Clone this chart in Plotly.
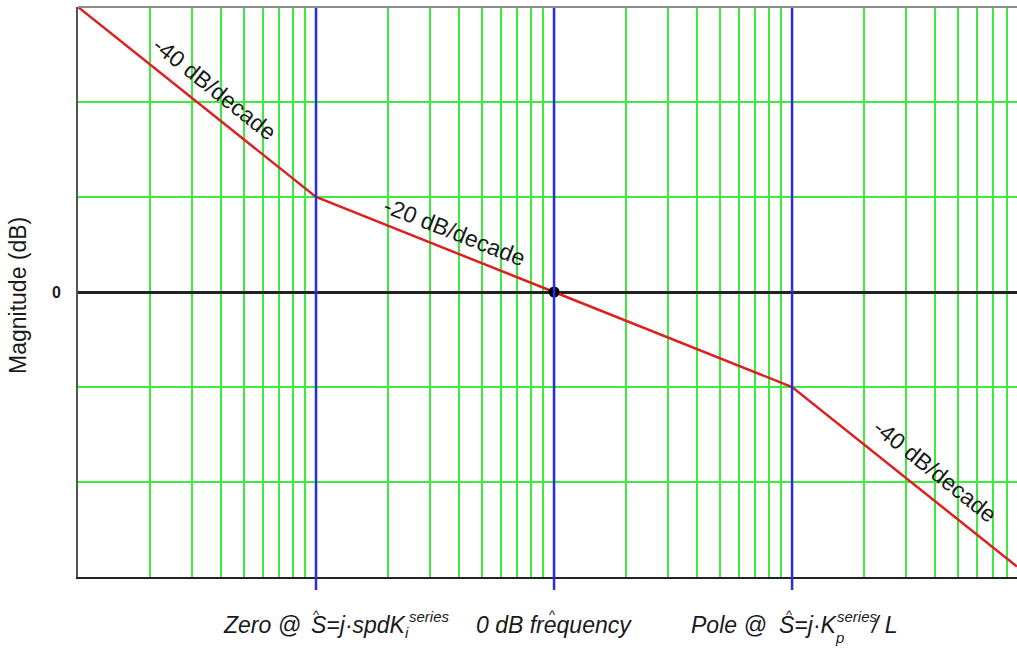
import numpy as np
import plotly.graph_objects as go

# ---- data ----
freq = [1, 10, 100, 1000, 8800]           # rad/s (relative), log axis
mag_db = [60, 20, 0, -20, -57.8]          # asymptotic magnitude (dB)
zero_freq = 10
crossover_freq = 100
pole_freq = 1000
x_grid = [m * 10 ** d for d in range(0, 4) for m in range(1, 10)]
y_grid = [-60, -40, -20, 0, 20, 40, 60]
slope_labels = ["-40 dB/decade", "-20 dB/decade", "-40 dB/decade"]
slope_label_freq = [3.77, 38.4, 3990]
slope_label_angle = [38.5, 21.5, 38.5]
slope_label_shift = [28, 21, 30]

FONT = "Arial, 'Liberation Sans', sans-serif"
TXT = "#1a1a1a"
GREEN = "#3fea3f"
BLUE = "#2b2bef"
RED = "#dd2020"
FS = 23
FS_SMALL = 15

fig = go.Figure()

# red asymptotic magnitude line
fig.add_trace(go.Scatter(x=freq, y=mag_db, mode="lines",
                         line=dict(color=RED, width=2.5),
                         hoverinfo="skip", showlegend=False))
# crossover dot
fig.add_trace(go.Scatter(x=[crossover_freq], y=[0], mode="markers",
                         marker=dict(color="black", size=11),
                         hoverinfo="skip", showlegend=False, cliponaxis=False))

# blue vertical lines (extend a little below the axis)
for f in [zero_freq, crossover_freq, pole_freq]:
    fig.add_shape(type="line", xref="x", yref="paper", x0=f, x1=f,
                  y0=-0.023, y1=1, line=dict(color=BLUE, width=2.5), layer="above")

# top border
fig.add_shape(type="line", xref="paper", yref="paper", x0=0, x1=1, y0=1, y1=1,
              line=dict(color="#8a8a8a", width=2), layer="above")

# slope labels along the line
logf = np.log10(freq)
for txt, f, ang, sh in zip(slope_labels, slope_label_freq, slope_label_angle, slope_label_shift):
    lx = np.log10(f)
    ly = float(np.interp(lx, logf, mag_db))
    fig.add_annotation(x=lx, y=ly, xref="x", yref="y", text=txt, showarrow=False,
                       textangle=ang, yshift=sh, font=dict(size=FS, color=TXT, family=FONT))


def label(f, text, xshift, yshift, size, anchor="left"):
    fig.add_annotation(x=np.log10(f), y=0, xref="x", yref="paper", text=text,
                       showarrow=False, xanchor=anchor, yanchor="middle",
                       xshift=xshift, yshift=yshift,
                       font=dict(size=size, color=TXT, family=FONT))


ybase = -48
# Zero label
label(zero_freq, "<i>Zero @</i>", -13, ybase, FS, "right")
label(zero_freq, "<i>S=j·spdK</i>", -7, ybase, FS)
label(zero_freq, "<i>i</i>", 87, -55, FS_SMALL)
label(zero_freq, "<i>series</i>", 91, -39, FS_SMALL)
label(zero_freq, "^", 0, -37, 13, "center")
# 0 dB label
label(crossover_freq, "<i>0 dB frequency</i>", 0, ybase, FS, "center")
label(crossover_freq, "^", -2, -37, 13, "center")
# Pole label
label(pole_freq, "<i>Pole @</i>", -23, ybase, FS, "right")
label(pole_freq, "<i>S=j·K</i>", -15, ybase, FS)
label(pole_freq, "<i>p</i>", 41, -60, FS_SMALL)
label(pole_freq, "<i>series</i>", 43, -39, FS_SMALL)
label(pole_freq, "<i>/ L</i>", 76, ybase, FS)
label(pole_freq, "^", -3, -37, 13, "center")

# y title
fig.add_annotation(x=0, y=0.493, xref="paper", yref="paper", text="Magnitude (dB)",
                   showarrow=False, textangle=-90, xanchor="center", yanchor="middle", xshift=-60,
                   font=dict(size=FS, color=TXT, family=FONT))

fig.update_xaxes(type="log", range=[0, 3.945], tickvals=x_grid, showticklabels=False,
                 showgrid=True, gridcolor=GREEN, gridwidth=2, ticks="",
                 showline=True, linecolor="#222222", linewidth=2, zeroline=False)
fig.update_yaxes(range=[-60, 60], tickvals=y_grid,
                 ticktext=["<b>0</b>" if v == 0 else "" for v in y_grid],
                 tickfont=dict(size=16, color=TXT, family=FONT), ticklabelstandoff=12,
                 showgrid=True, gridcolor=GREEN, gridwidth=2, ticks="",
                 showline=True, linecolor="#555555", linewidth=2,
                 zeroline=True, zerolinecolor="#222222", zerolinewidth=2.5)

fig.update_layout(width=1017, height=649, margin=dict(l=78, r=0, t=7, b=72),
                  plot_bgcolor="white", paper_bgcolor="white",
                  font=dict(family=FONT, color=TXT), showlegend=False)

fig.write_html("out.html", config={"displayModeBar": False},
               post_script="document.body.style.margin='0';document.body.style.overflow='hidden';")
